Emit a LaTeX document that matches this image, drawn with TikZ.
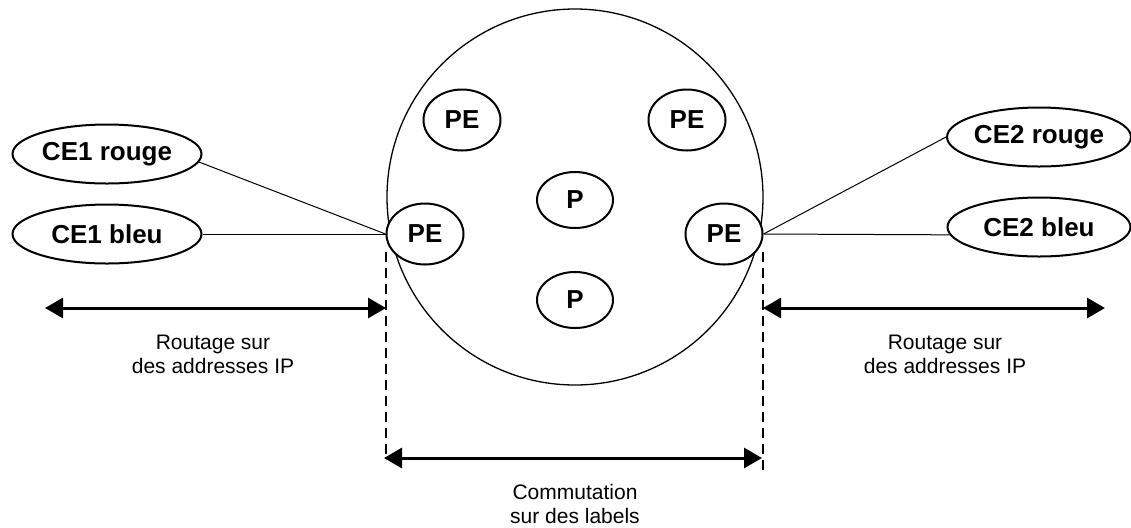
\documentclass[tikz,border=0pt]{standalone}
\usepackage{fontspec}
\setmainfont{Liberation Sans}
\usetikzlibrary{shapes.geometric,arrows.meta}

\tikzset{
  oval/.style={ellipse, draw, fill=white, line width=1pt, inner sep=0pt,
    font=\fontsize{13}{15}\selectfont\bfseries},
  cenode/.style={oval, minimum width=94.5pt, minimum height=29.5pt},
  penode/.style={oval, minimum width=38.5pt, minimum height=30.5pt},
  pnode/.style={oval, minimum width=38pt, minimum height=28pt},
  link/.style={line width=0.5pt},
  guide/.style={line width=0.6pt, dash pattern=on 5pt off 3pt},
  span/.style={line width=1.5pt, {Triangle[length=9pt,width=10pt]}-{Triangle[length=9pt,width=10pt]}},
  caption/.style={align=center, font=\fontsize{10.5}{12}\selectfont}
}

\begin{document}
\begin{tikzpicture}[x=0.5pt, y=-0.5pt]
  \useasboundingbox (0,0) rectangle (1131,527);

  % provider network
  \node[circle, draw, line width=0.65pt, minimum size=188pt, inner sep=0pt] (core) at (575,197) {};

  % provider routers
  \node[penode] (petl) at (462,120) {PE};
  \node[penode] (petr) at (687,120) {PE};
  \node[penode] (pel)  at (425,234) {PE};
  \node[penode] (per)  at (724,234) {PE};
  \node[pnode]  (pc)   at (575,200) {P};
  \node[pnode]  (pb)   at (575,300) {P};

  % customer edges
  \node[cenode] (ce1r) at (107,154) {CE1 rouge};
  \node[cenode] (ce1b) at (107,234) {CE1 bleu};
  \node[cenode, minimum width=91.5pt] (ce2r) at (1039,137) {CE2 rouge};
  \node[cenode, minimum width=91.5pt] (ce2b) at (1039,227) {CE2 bleu};

  % access links
  \draw[link] (ce1r.-5) -- (pel.west);
  \draw[link] (ce1b.east) -- (pel.west);
  \draw[link] (per.east) -- (ce2r.west);
  \draw[link] (per.east) -- (ce2b.185);

  % domain boundaries
  \coordinate (gl0) at (386,252);
  \coordinate (gl) at (386,460);
  \coordinate (gr0) at (763,252);
  \coordinate (gr) at (763,472);
  \draw[guide] (gl0) -- (gl);
  \draw[guide] (gr0) -- (gr);

  % extents
  \coordinate (al) at (45,308);
  \coordinate (ar) at (1105,308);
  \coordinate (bl1) at (386,308);
  \coordinate (br1) at (763,308);
  \coordinate (bl2) at (384,458);
  \coordinate (br2) at (762,458);
  \draw[span] (al) -- (bl1);
  \draw[span] (br1) -- (ar);
  \draw[span] (bl2) -- (br2);

  \node[caption] (cl) at (213,354) {Routage sur\\des addresses IP};
  \node[caption] (cr) at (945,354) {Routage sur\\des addresses IP};
  \node[caption] (cb) at (575,504) {Commutation\\sur des labels};
\end{tikzpicture}
\end{document}
